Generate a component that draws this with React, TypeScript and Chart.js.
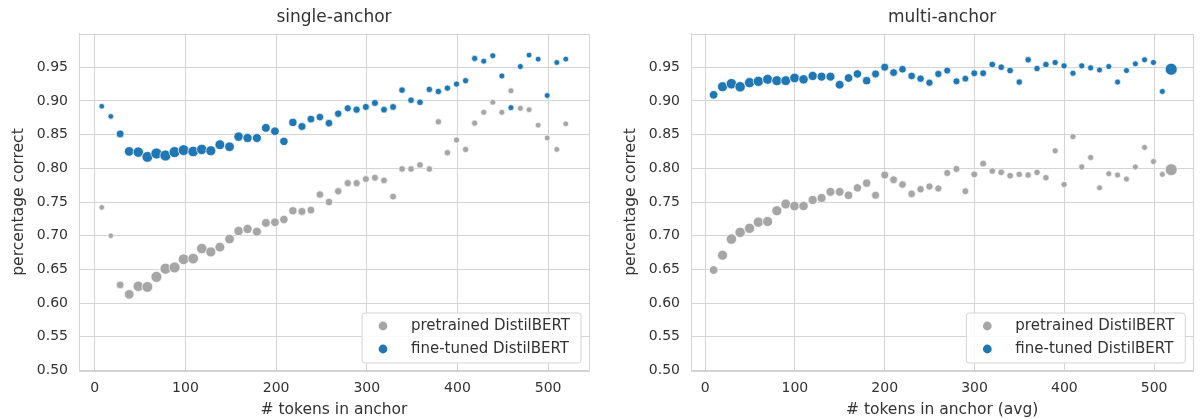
import React, { useEffect, useRef } from 'react';
import { Chart, registerables } from 'chart.js';

Chart.register(...registerables);

// ---------- data ----------
const seriesLabels = ['pretrained DistilBERT', 'fine-tuned DistilBERT'];
const panelTitles = ['single-anchor', 'multi-anchor'];
const xAxisTitles = ['# tokens in anchor', '# tokens in anchor (avg)'];
const yAxisTitle = 'percentage correct';
const xTickValues = [0, 100, 200, 300, 400, 500];
const yTickValues = [0.5, 0.55, 0.6, 0.65, 0.7, 0.75, 0.8, 0.85, 0.9, 0.95];

const singleX = [7.7, 17.7, 28, 38, 48, 58, 68, 78, 88, 98, 108.5, 118, 128, 138, 148.6, 158.6, 168.5, 178.8, 188.7, 198.7, 208.6, 218.5, 228.5, 238.4, 248.3, 258.3, 268.5, 279, 288.8, 299, 309, 319, 329, 338.9, 348.8, 358.7, 369, 379, 388.9, 399, 409, 419, 429, 439, 449, 459, 469.4, 479, 489, 499, 509.6, 519.5];
const singlePretrained = [0.742, 0.700, 0.627, 0.613, 0.625, 0.624, 0.639, 0.651, 0.653, 0.665, 0.666, 0.681, 0.676, 0.683, 0.695, 0.707, 0.710, 0.706, 0.719, 0.720, 0.724, 0.737, 0.736, 0.738, 0.761, 0.750, 0.766, 0.778, 0.778, 0.784, 0.786, 0.782, 0.758, 0.799, 0.799, 0.805, 0.799, 0.869, 0.823, 0.842, 0.828, 0.867, 0.883, 0.898, 0.883, 0.915, 0.889, 0.887, 0.864, 0.845, 0.828, 0.866];
const singleFinetuned = [0.892, 0.877, 0.851, 0.825, 0.824, 0.817, 0.822, 0.819, 0.824, 0.827, 0.825, 0.828, 0.826, 0.835, 0.832, 0.847, 0.845, 0.845, 0.860, 0.855, 0.840, 0.868, 0.862, 0.873, 0.876, 0.867, 0.881, 0.889, 0.887, 0.891, 0.897, 0.887, 0.891, 0.916, 0.901, 0.898, 0.917, 0.914, 0.919, 0.925, 0.930, 0.963, 0.959, 0.967, 0.937, 0.890, 0.951, 0.968, 0.962, 0.908, 0.957, 0.962];
const singleRadius = [2.8, 2.8, 3.9, 4.8, 5.2, 5.4, 5.5, 5.5, 5.5, 5.4, 5.3, 5.2, 5.0, 4.9, 4.8, 4.7, 4.6, 4.5, 4.4, 4.3, 4.2, 4.1, 4.0, 3.9, 3.8, 3.8, 3.7, 3.6, 3.6, 3.5, 3.5, 3.4, 3.4, 3.3, 3.3, 3.3, 3.2, 3.2, 3.2, 3.1, 3.1, 3.1, 3.0, 3.0, 3.0, 3.0, 3.0, 2.9, 2.9, 2.9, 2.9, 2.9];

const multiX = [9.5, 19.4, 29.3, 39, 49.5, 59.3, 69.6, 79.9, 89.8, 99.6, 109.6, 119.8, 129.7, 139.6, 149.8, 159.7, 169.6, 179.9, 189.8, 200, 209.9, 219.8, 230, 239.9, 249.8, 259.7, 269.6, 279.9, 289.8, 299.7, 309.6, 319.8, 329.7, 339.6, 349.8, 359.7, 369.6, 379.5, 389.8, 399.7, 409.6, 419.4, 429.3, 439.2, 449.5, 459.3, 469.2, 479.1, 489.3, 499.2, 509.1, 519];
const multiPretrained = [0.649, 0.671, 0.695, 0.705, 0.711, 0.720, 0.721, 0.737, 0.747, 0.744, 0.744, 0.753, 0.756, 0.765, 0.765, 0.760, 0.771, 0.778, 0.760, 0.790, 0.783, 0.776, 0.762, 0.769, 0.773, 0.770, 0.793, 0.799, 0.766, 0.791, 0.807, 0.796, 0.794, 0.789, 0.791, 0.790, 0.794, 0.786, 0.826, 0.776, 0.847, 0.802, 0.816, 0.771, 0.792, 0.790, 0.784, 0.802, 0.831, 0.810, 0.791, 0.798];
const multiFinetuned = [0.909, 0.921, 0.9255, 0.921, 0.927, 0.929, 0.932, 0.930, 0.930, 0.934, 0.932, 0.937, 0.936, 0.936, 0.924, 0.934, 0.940, 0.930, 0.940, 0.950, 0.942, 0.947, 0.937, 0.933, 0.927, 0.940, 0.945, 0.929, 0.933, 0.941, 0.941, 0.954, 0.950, 0.945, 0.928, 0.961, 0.948, 0.954, 0.957, 0.952, 0.941, 0.952, 0.949, 0.946, 0.951, 0.928, 0.945, 0.955, 0.961, 0.957, 0.914, 0.947];
const multiRadius = [4.3, 5.0, 5.2, 5.2, 5.1, 5.1, 5.0, 5.0, 4.9, 4.8, 4.7, 4.6, 4.5, 4.5, 4.4, 4.3, 4.2, 4.1, 4.0, 4.0, 3.9, 3.8, 3.8, 3.7, 3.6, 3.6, 3.5, 3.5, 3.4, 3.4, 3.4, 3.3, 3.3, 3.3, 3.2, 3.2, 3.2, 3.2, 3.1, 3.1, 3.1, 3.1, 3.1, 3.0, 3.0, 3.0, 3.0, 3.0, 3.0, 3.0, 3.0, 6.0];

// ---------- styles ----------
const GRAY = '#a6a6a6';
const BLUE = '#1f77b4';
const GRID = '#d4d4d4';
const TEXT = '#333333';
const FONT = "'DejaVu Sans', sans-serif";

const framePlugin = {
  id: 'frame',
  beforeDatasetsDraw(chart: any) {
    const { ctx, chartArea } = chart;
    ctx.save();
    ctx.strokeStyle = GRID;
    ctx.lineWidth = 1;
    ctx.strokeRect(
      Math.round(chartArea.left) + 0.5,
      Math.round(chartArea.top) + 0.5,
      Math.round(chartArea.right) - Math.round(chartArea.left),
      Math.round(chartArea.bottom) - Math.round(chartArea.top)
    );
    ctx.restore();
  },
};

const insideLegendPlugin = {
  id: 'insideLegend',
  afterDraw(chart: any) {
    const { ctx, chartArea } = chart;
    const w = 219;
    const h = 50;
    const right = chartArea.right - 8;
    const bottom = chartArea.bottom - 7.5;
    const left = right - w;
    const top = bottom - h;
    const r = 3;
    ctx.save();
    ctx.beginPath();
    ctx.moveTo(left + r, top);
    ctx.lineTo(right - r, top);
    ctx.arcTo(right, top, right, top + r, r);
    ctx.lineTo(right, bottom - r);
    ctx.arcTo(right, bottom, right - r, bottom, r);
    ctx.lineTo(left + r, bottom);
    ctx.arcTo(left, bottom, left, bottom - r, r);
    ctx.lineTo(left, top + r);
    ctx.arcTo(left, top, left + r, top, r);
    ctx.closePath();
    ctx.fillStyle = 'rgba(255,255,255,0.85)';
    ctx.fill();
    ctx.strokeStyle = GRID;
    ctx.lineWidth = 1;
    ctx.stroke();
    chart.data.datasets.forEach((ds: any, i: number) => {
      const cy = top + 13 + i * 23;
      ctx.beginPath();
      ctx.arc(left + 21, cy, 4.4, 0, Math.PI * 2);
      ctx.fillStyle = ds.backgroundColor;
      ctx.fill();
      ctx.fillStyle = TEXT;
      ctx.font = `15px ${FONT}`;
      ctx.textAlign = 'left';
      ctx.textBaseline = 'middle';
      ctx.fillText(ds.label, left + 49, cy + 0.5);
    });
    ctx.restore();
  },
};

type Panel = {
  title: string;
  xTitle: string;
  xs: number[];
  pre: number[];
  fine: number[];
  radius: number[];
  xMin: number;
  xMax: number;
  yWidth: number;
  yTitlePad: number;
  padRight: number;
};

function makeConfig(p: Panel): any {
  const mk = (vals: number[]) => vals.map((y, i) => ({ x: p.xs[i], y }));
  return {
    type: 'scatter',
    data: {
      datasets: [
        {
          label: seriesLabels[0],
          data: mk(p.pre),
          backgroundColor: GRAY,
          borderColor: '#ffffff',
          borderWidth: 0.7,
          pointRadius: p.radius,
          pointHoverRadius: p.radius,
          order: 2,
        },
        {
          label: seriesLabels[1],
          data: mk(p.fine),
          backgroundColor: BLUE,
          borderColor: '#ffffff',
          borderWidth: 0.7,
          pointRadius: p.radius,
          pointHoverRadius: p.radius,
          order: 1,
        },
      ],
    },
    options: {
      animation: false,
      responsive: false,
      events: [],
      layout: { padding: { left: 0, right: p.padRight, top: 0, bottom: 0 } },
      plugins: {
        legend: { display: false },
        tooltip: { enabled: false },
        title: {
          display: true,
          text: p.title,
          fullSize: false,
          color: TEXT,
          font: { size: 17, weight: 'normal', family: FONT },
          padding: { top: 7.8, bottom: 5.3 },
        },
      },
      scales: {
        x: {
          type: 'linear',
          min: p.xMin,
          max: p.xMax,
          afterBuildTicks: (s: any) => {
            s.ticks = xTickValues.map((v) => ({ value: v }));
          },
          afterFit: (s: any) => {
            s.height = 48.5;
            s.paddingLeft = 0;
            s.paddingRight = 0;
          },
          grid: { color: GRID, lineWidth: 1, drawTicks: false },
          border: { color: GRID, width: 1 },
          ticks: {
            padding: 9,
            color: TEXT,
            font: { size: 14, family: FONT },
            maxRotation: 0,
            callback: (v: number) => String(v),
          },
          title: {
            display: true,
            text: p.xTitle,
            color: TEXT,
            font: { size: 15.5, family: FONT },
            padding: { top: 0, bottom: 0 },
          },
        },
        y: {
          type: 'linear',
          min: 0.5,
          max: 1.0,
          afterBuildTicks: (s: any) => {
            s.ticks = yTickValues.map((v) => ({ value: v }));
          },
          afterFit: (s: any) => {
            s.width = p.yWidth;
            s.paddingTop = 0;
            s.paddingBottom = 0;
          },
          grid: { color: GRID, lineWidth: 1, drawTicks: false },
          border: { color: GRID, width: 1 },
          ticks: {
            padding: 11,
            color: TEXT,
            font: { size: 14, family: FONT },
            callback: (v: number) => Number(v).toFixed(2),
          },
          title: {
            display: true,
            text: yAxisTitle,
            color: TEXT,
            font: { size: 15.5, family: FONT },
            padding: { top: p.yTitlePad, bottom: 0 },
          },
        },
      },
    },
    plugins: [framePlugin, insideLegendPlugin],
  };
}

const panels: Panel[] = [
  {
    title: panelTitles[0],
    xTitle: xAxisTitles[0],
    xs: singleX,
    pre: singlePretrained,
    fine: singleFinetuned,
    radius: singleRadius,
    xMin: -17.4,
    xMax: 545.1,
    yWidth: 79,
    yTitlePad: 10,
    padRight: 11,
  },
  {
    title: panelTitles[1],
    xTitle: xAxisTitles[1],
    xs: multiX,
    pre: multiPretrained,
    fine: multiFinetuned,
    radius: multiRadius,
    xMin: -15.7,
    xMax: 543.6,
    yWidth: 91,
    yTitlePad: 21.7,
    padRight: 0,
  },
];

function PanelChart({ panel, left }: { panel: Panel; left: number }) {
  const ref = useRef<HTMLCanvasElement | null>(null);
  useEffect(() => {
    if (!ref.current) return;
    const chart = new Chart(ref.current, makeConfig(panel));
    return () => chart.destroy();
  }, [panel]);
  return (
    <canvas
      ref={ref}
      width={600}
      height={419}
      style={{ position: 'absolute', left, top: 0, width: 600, height: 419 }}
    />
  );
}

export default function App() {
  useEffect(() => {
    Chart.defaults.font.family = FONT;
  }, []);
  return (
    <div
      style={{
        position: 'absolute',
        left: 0,
        top: 0,
        width: 1200,
        height: 419,
        background: '#ffffff',
        overflow: 'hidden',
      }}
    >
      <PanelChart panel={panels[0]} left={0} />
      <PanelChart panel={panels[1]} left={600} />
    </div>
  );
}
